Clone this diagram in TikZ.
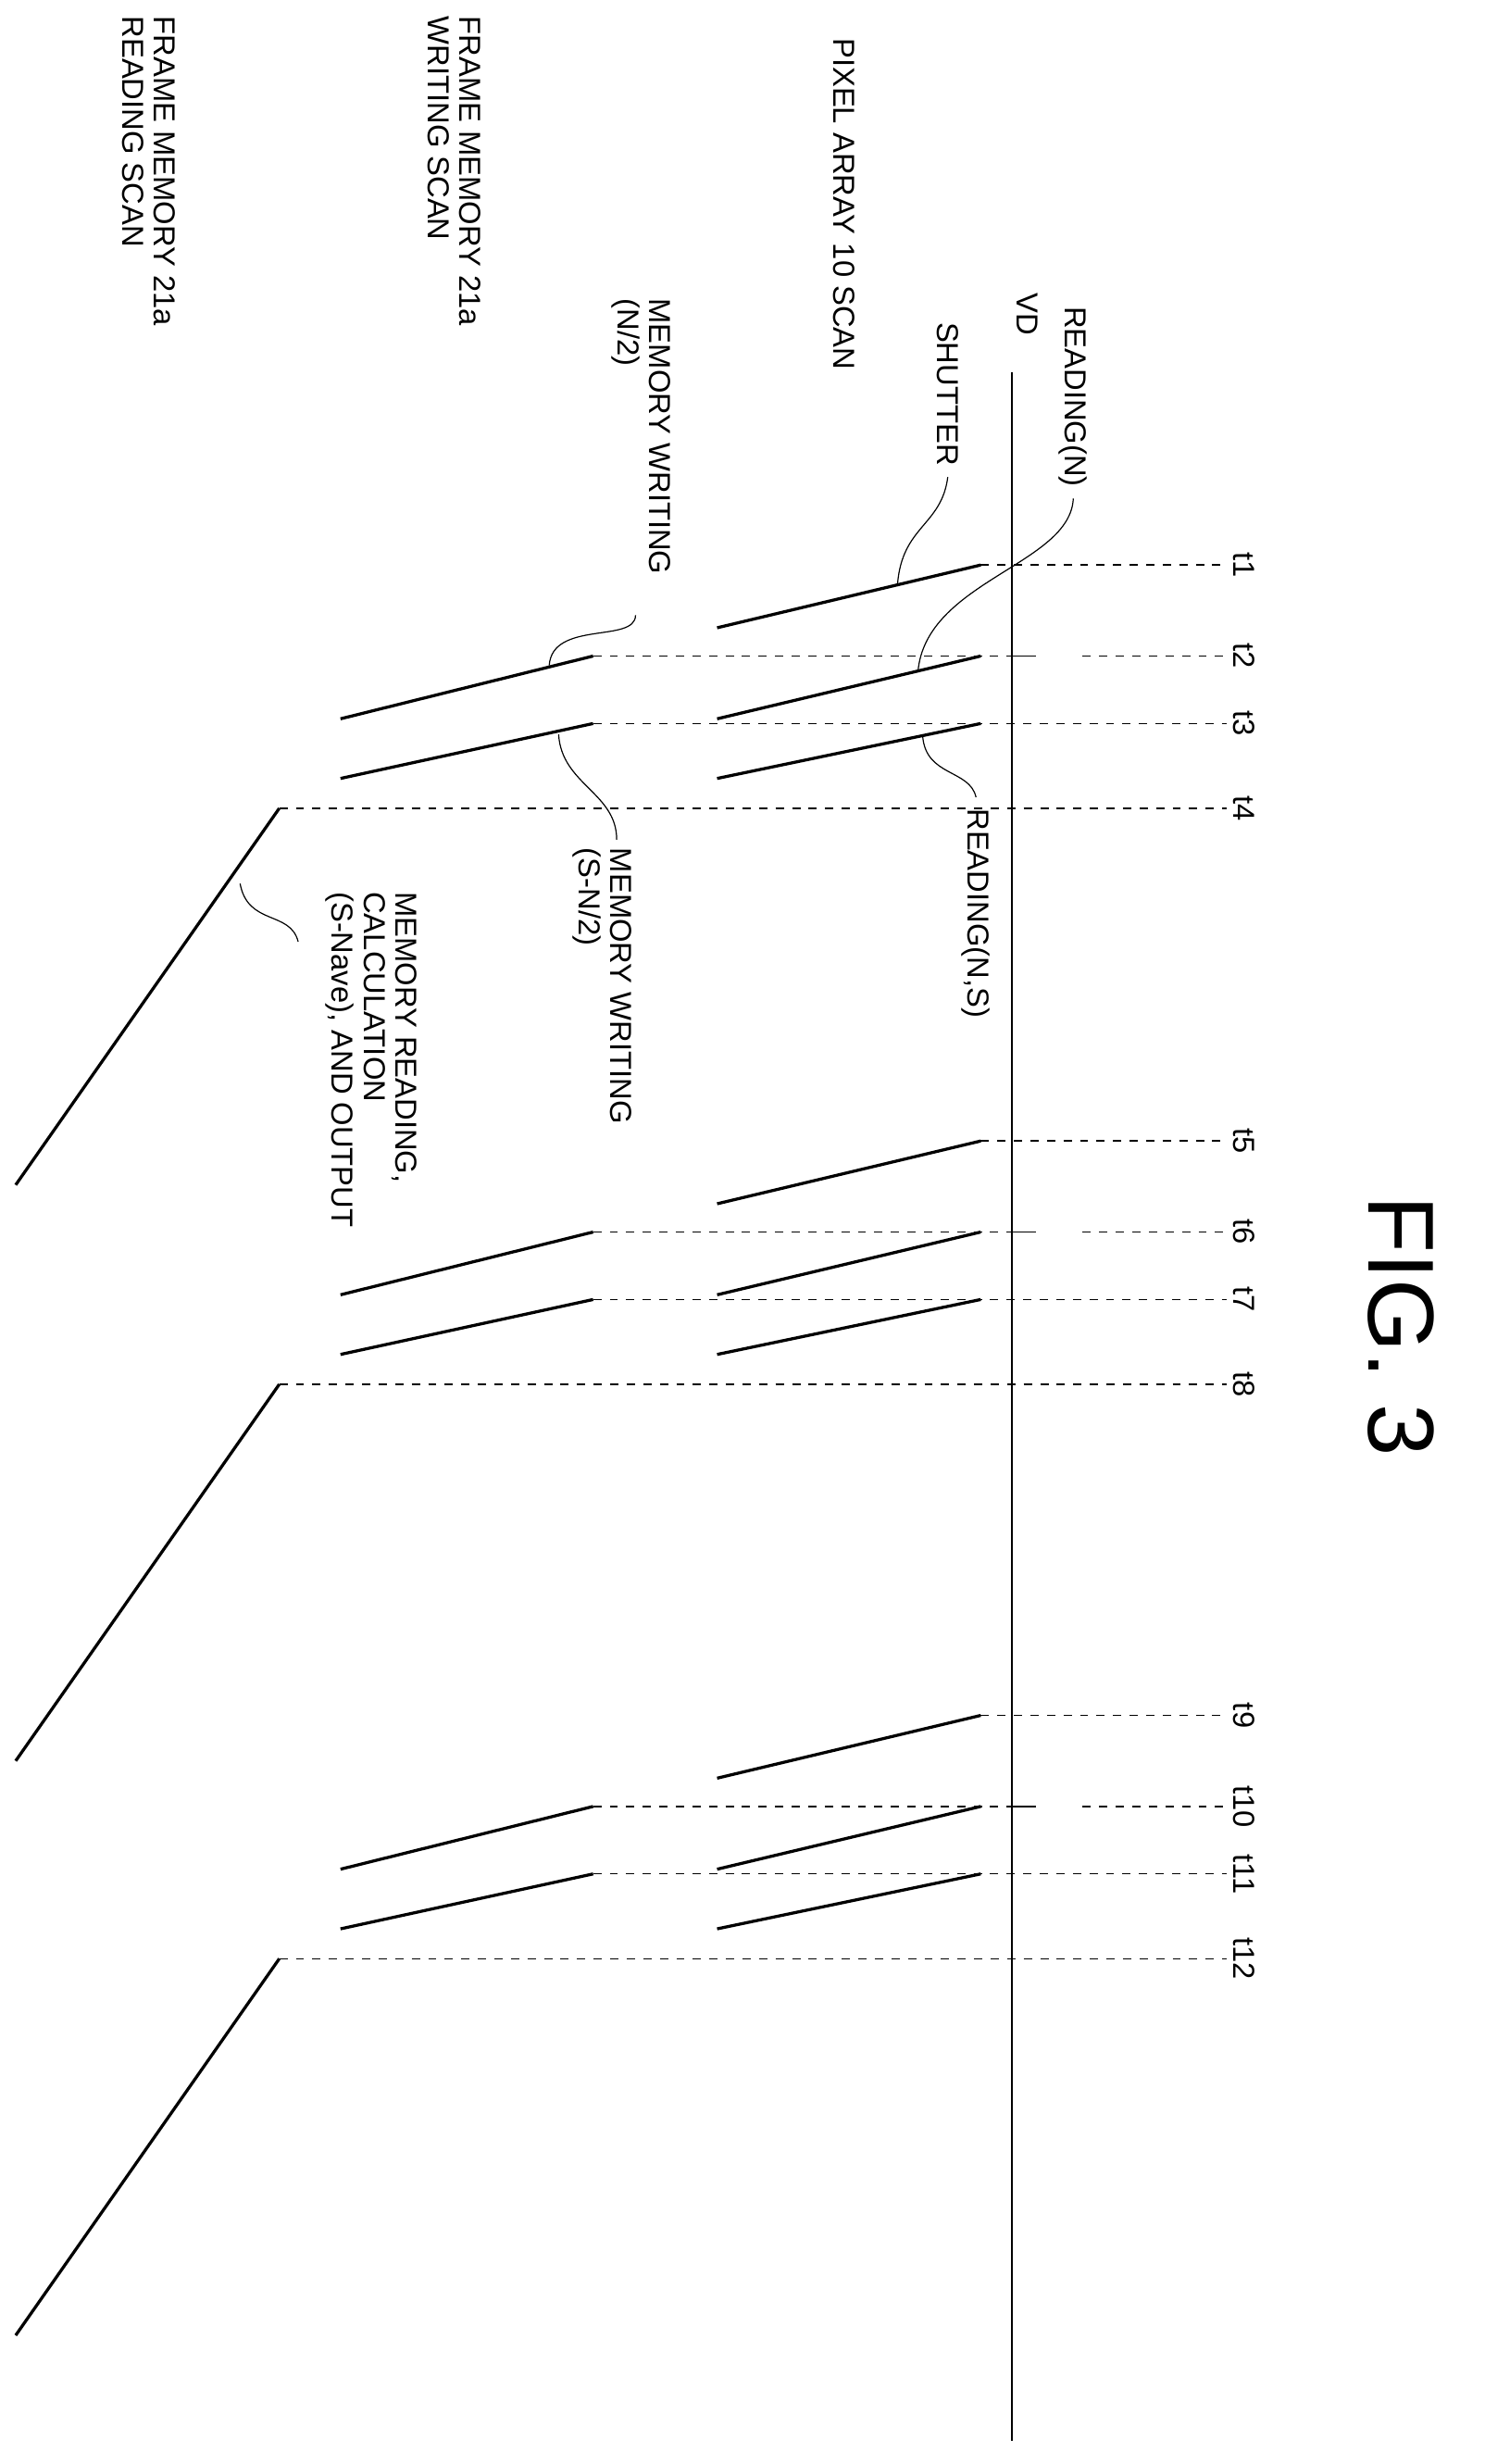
\documentclass[tikz,border=0pt]{standalone}
\usepackage{fontspec}
\setmainfont{Liberation Sans}
\begin{document}
\begin{tikzpicture}[x=0.02cm,y=-0.02cm,
  lbl/.style={rotate=-90,font=\fontsize{11}{11.5}\selectfont,inner sep=0pt,align=left},
  slant/.style={line width=1.1pt},
  tline/.style={line width=0.5pt,dash pattern=on 3pt off 3pt},
  lead/.style={line width=0.4pt}]
\useasboundingbox (0,0) rectangle (946,1570);
% VD line
\coordinate (vdtop) at (645,237);
\coordinate (vdbot) at (645,1555);
\draw[line width=0.6pt] (vdtop) -- (vdbot);
\foreach \o/\a/\b/\c/\d in {0/1/2/3/4,367/5/6/7/8,733/9/10/11/12}{
  \draw[tline] (625,360+\o) -- (782,360+\o);
  \draw[tline] (378,418+\o) -- (645,418+\o);
  \draw[line width=0.6pt] (645,418+\o) -- (660,418+\o);
  \draw[tline] (690,418+\o) -- (782,418+\o);
  \draw[tline] (378,461+\o) -- (782,461+\o);
  \draw[tline] (178,515+\o) -- (782,515+\o);
  \node[lbl] at (793,360+\o) {t\a};
  \node[lbl] at (793,418+\o) {t\b};
  \node[lbl] at (793,461+\o) {t\c};
  \node[lbl] at (793,515+\o) {t\d};
  \draw[slant] (625,360+\o) -- (457,400+\o);
  \draw[slant] (625,418+\o) -- (457,458+\o);
  \draw[slant] (625,461+\o) -- (457,496+\o);
  \draw[slant] (378,418+\o) -- (217,458+\o);
  \draw[slant] (378,461+\o) -- (217,496+\o);
  \draw[slant] (178,515+\o) -- (10,755+\o);
}
% labels
\node[lbl] (pa) at (538,130) {PIXEL ARRAY 10 SCAN};
\node[lbl,anchor=north west] (fw) at (307,10) {FRAME MEMORY 21a\\WRITING SCAN};
\node[lbl,anchor=north west] (fr) at (112,10) {FRAME MEMORY 21a\\READING SCAN};
\node[lbl] (vd) at (655,200) {VD};
\node[lbl,anchor=west] (rn) at (684,195) {READING(N)};
\node[lbl,anchor=west] (sh) at (604,205) {SHUTTER};
\node[lbl,anchor=north west] (mw1) at (428,190) {MEMORY WRITING\\(N/2)};
\node[lbl,anchor=west] (rns) at (622,515) {READING(N,S)};
\node[lbl,anchor=north west] (mw2) at (403,540) {MEMORY WRITING\\(S-N/2)};
\node[lbl,anchor=north west] (mr) at (266,568) {MEMORY READING,\\CALCULATION\\(S-Nave), AND OUTPUT};
\node[rotate=-90,font=\fontsize{34}{36}\selectfont,inner sep=0pt] (fig) at (893,845) {FIG. 3};
% leader anchors
\coordinate (mw1e) at (405,392);
\coordinate (mw2s) at (393,535);
\coordinate (mrs) at (190,600);
% leaders
\draw[lead] ([yshift=-4]sh.east) .. controls (600,335) and (575,335) .. (572,372);
\draw[lead] ([yshift=-4]rn.east) .. controls (682,360) and (590,370) .. (585,428);
\draw[lead] (mw1e) .. controls (405,410) and (352,395) .. (350,424);
\draw[lead] ([yshift=4]rns.west) .. controls (618,490) and (590,495) .. (588,469);
\draw[lead] (mw2s) .. controls (393,505) and (358,500) .. (356,468);
\draw[lead] (mrs) .. controls (185,580) and (158,590) .. (153,563);
\end{tikzpicture}
\end{document}
